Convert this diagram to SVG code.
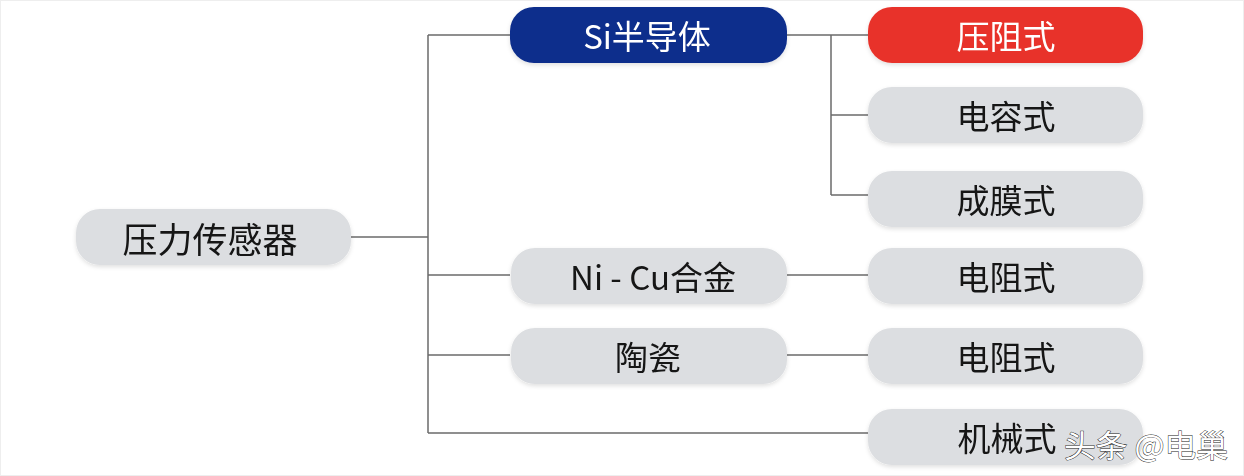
<svg xmlns="http://www.w3.org/2000/svg" width="1244" height="476" viewBox="0 0 1244 476">
<defs>
<style>
.node rect{fill:#dcdee1;}
.node text{font-family:"Noto Sans CJK SC","Noto Sans",sans-serif;font-size:33px;fill:#141414;text-anchor:middle;dominant-baseline:central;}
#root text{font-size:35px;}
#si rect{fill:#0c2d8c;}
#si text{fill:#ffffff;}
#yzs rect{fill:#e8332a;}
#yzs text{fill:#ffffff;}
.conn line{stroke:#6a6a6a;stroke-width:1.5;fill:none;}
.wm{font-family:"Noto Sans CJK SC",sans-serif;font-size:31px;fill:#ffffff;stroke:#222;stroke-width:0.9;paint-order:stroke;}
</style>
<filter id="sh" x="-10%" y="-20%" width="120%" height="150%">
<feDropShadow dx="0" dy="2" stdDeviation="2" flood-color="#000" flood-opacity="0.12"/>
</filter>
</defs>
<rect x="0" y="0" width="1244" height="476" fill="#ffffff"/>
<rect x="0.5" y="0.5" width="1243" height="475" fill="none" stroke="#eeeeee"/>
<g class="conn" id="connectors">
<line x1="351" y1="237" x2="428" y2="237"/>
<line x1="428" y1="35" x2="428" y2="433"/>
<line x1="428" y1="35" x2="510" y2="35"/>
<line x1="428" y1="275" x2="510" y2="275"/>
<line x1="428" y1="355" x2="510" y2="355"/>
<line x1="428" y1="433" x2="868" y2="433"/>
<line x1="787" y1="35" x2="868" y2="35"/>
<line x1="831" y1="35" x2="831" y2="195"/>
<line x1="831" y1="115" x2="868" y2="115"/>
<line x1="831" y1="195" x2="868" y2="195"/>
<line x1="787" y1="275" x2="868" y2="275"/>
<line x1="787" y1="355" x2="868" y2="355"/>
</g>
<g class="node" id="root" filter="url(#sh)"><rect x="76" y="209" width="275" height="56" rx="24"/><text x="210" y="237">压力传感器</text></g>
<g class="node" id="si" filter="url(#sh)"><rect x="510" y="7" width="277" height="56" rx="24"/><text x="647" y="35">Si半导体</text></g>
<g class="node" id="yzs" filter="url(#sh)"><rect x="868" y="7" width="275" height="56" rx="24"/><text x="1006" y="35">压阻式</text></g>
<g class="node" id="drs" filter="url(#sh)"><rect x="868" y="87" width="275" height="56" rx="24"/><text x="1006" y="115">电容式</text></g>
<g class="node" id="cms" filter="url(#sh)"><rect x="868" y="171" width="275" height="56" rx="24"/><text x="1006" y="199">成膜式</text></g>
<g class="node" id="nicu" filter="url(#sh)"><rect x="511" y="248" width="276" height="56" rx="24"/><text x="653" y="276">Ni - Cu合金</text></g>
<g class="node" id="dzs1" filter="url(#sh)"><rect x="868" y="248" width="275" height="56" rx="24"/><text x="1006" y="276">电阻式</text></g>
<g class="node" id="tc" filter="url(#sh)"><rect x="511" y="328" width="276" height="56" rx="24"/><text x="648" y="356">陶瓷</text></g>
<g class="node" id="dzs2" filter="url(#sh)"><rect x="868" y="328" width="275" height="56" rx="24"/><text x="1006" y="356">电阻式</text></g>
<g class="node" id="jxs" filter="url(#sh)"><rect x="868" y="409" width="275" height="56" rx="24"/><text x="1007" y="437">机械式</text></g>
<text class="wm" x="1064" y="457" textLength="164" lengthAdjust="spacingAndGlyphs">头条 @电巢</text>
</svg>
